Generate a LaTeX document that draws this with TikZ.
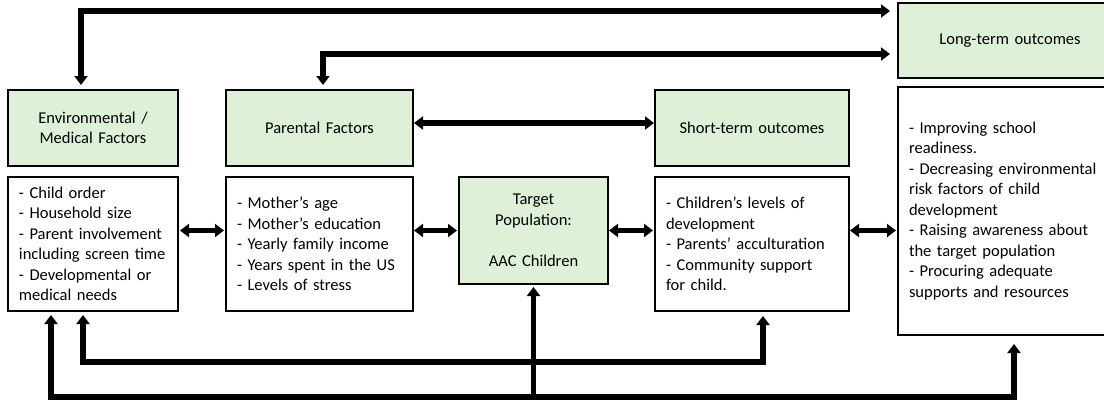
\documentclass[tikz,border=0pt]{standalone}
\usepackage{fontspec}
\setmainfont{Carlito}
\usepackage{tikz}
\usetikzlibrary{positioning,arrows.meta}
\definecolor{boxgreen}{RGB}{222,240,216}

\begin{document}
\begin{tikzpicture}[x=1pt, y=-1pt, line width=2.5pt, node distance=11pt,
	hdr/.style={draw, fill=boxgreen, rectangle, align=center, inner xsep=11pt, outer sep=0pt, minimum height=76pt, font=\fontsize{16.5}{20.5}\selectfont},
	lst/.style={draw, fill=white, rectangle, align=left, inner xsep=11pt, outer sep=0pt, minimum height=134pt, font=\fontsize{16.5}{20.5}\selectfont},
	flow/.style={line width=5.5pt, -{Triangle[width=13pt,length=9pt]}},
	dflow/.style={line width=5.5pt, {Triangle[width=13pt,length=9pt]}-{Triangle[width=13pt,length=9pt]}}]
	
	\useasboundingbox (0,0) rectangle (1104,402);
	
	\node [hdr, text width=148pt] (envhead) at (93,128) {Environmental /\\ Medical Factors};
	\node [lst, text width=148pt] (envbody) [below=of envhead] {- Child order\\ - Household size\\ - Parent involvement\\ including screen time\\ - Developmental or\\ medical needs};
	
	\node [hdr, text width=165pt] (parhead) [right=48pt of envhead] {Parental Factors};
	\node [lst, text width=165pt] (parbody) [below=of parhead] {- Mother’s age\\ - Mother’s education\\ - Yearly family income\\ - Years spent in the US\\ - Levels of stress};
	
	\node [hdr, text width=127pt, minimum height=107pt] (target) at (533.5,230.5) {Target\\ Population:\\[20.5pt] AAC Children};
	
	\node [hdr, text width=172pt] (shorthead) [right=242pt of parhead] {Short-term outcomes};
	\node [lst, text width=172pt] (shortbody) [below=of shorthead] {- Children’s levels of\\ development\\ - Parents’ acculturation\\ - Community support\\ for child.};
	
	\node [hdr, text width=202pt, minimum height=75pt] (longhead) at (1010,40.5) {Long-term outcomes};
	\node [lst, text width=202pt, minimum height=248pt] (longbody) at (1010,211) {- Improving school\\ readiness.\\ - Decreasing environmental\\ risk factors of child\\ development\\ - Raising awareness about\\ the target population\\ - Procuring adequate\\ supports and resources};
	
	\draw [dflow, shorten <=5pt, shorten >=8pt] ([xshift=-12pt]envhead.north) |- ([yshift=29.5pt]longhead.west);
	\draw [dflow, shorten <=5pt, shorten >=8pt] ([xshift=3.5pt]parhead.north) |- ([yshift=-13.5pt]longhead.west);
	\draw [dflow, shorten <=1pt, shorten >=1pt] ([yshift=5pt]parhead.east) -- ([yshift=5pt]shorthead.west);
	
	\draw [dflow, shorten <=2pt, shorten >=2pt] (envbody.east |- target) -- (parbody.west |- target);
	\draw [dflow, shorten <=1pt, shorten >=2pt] (parbody.east |- target) -- (target.west);
	\draw [dflow, shorten <=1pt, shorten >=2pt] (target.east) -- (shortbody.west |- target);
	\draw [dflow, shorten <=1pt, shorten >=2pt] (shortbody.east |- target) -- (longbody.west |- target);
	
	\draw [dflow, shorten <=4pt, shorten >=5pt] ([xshift=-10pt]envbody.south) -- ++(0,51) -| ([xshift=11pt]shortbody.south);
	\draw [dflow, shorten <=4pt, shorten >=9pt] ([xshift=-42pt]envbody.south) -- ++(0,86) -| ([xshift=4pt]longbody.south);
	\draw [flow, shorten >=3pt] ([yshift=-113pt]target.south) -- (target.south);
\end{tikzpicture}
\end{document}
